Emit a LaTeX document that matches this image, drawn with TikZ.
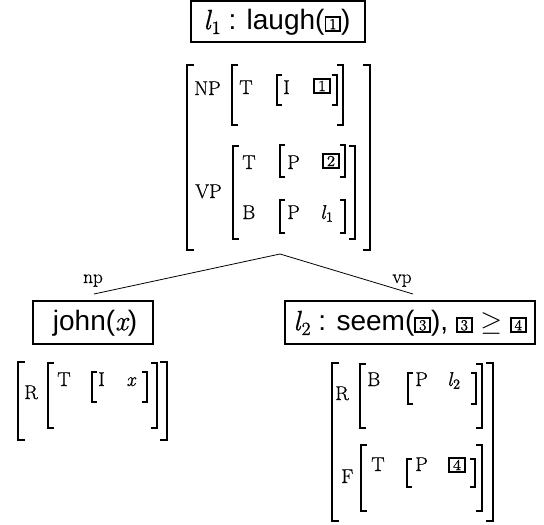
\documentclass[tikz,border=0pt]{standalone}
\usepackage{fix-cm}
\usepackage{fontspec}
\setmainfont{Latin Modern Roman}[FakeBold=0.6]
\newfontfamily\boxfont{Liberation Sans}
\newfontfamily\mathl{Latin Modern Roman}[FakeBold=0.8]
\newcommand\tg[1]{{\setlength\fboxrule{1.4pt}\setlength\fboxsep{0.6pt}\fbox{\makebox[8.5pt]{\fontsize{11.5}{11.5}\selectfont\rmfamily #1}}}}
\newcommand\li[3]{{\mathl\itshape #1}\kern0.04em\raisebox{-0.32ex}{\mathl\fontsize{#3}{#3}\selectfont #2}}
\newcommand\sqL[5]{\draw[#1] ({#2+#5},#3) -- (#2,#3) -- (#2,#4) -- ({#2+#5},#4);}
\newcommand\sqR[5]{\draw[#1] ({#2-#5},#3) -- (#2,#3) -- (#2,#4) -- ({#2-#5},#4);}
\newcommand\avmbr[6]{\sqL{#1}{#2}{#4}{#5}{#6}\sqR{#1}{#3}{#4}{#5}{#6}}
\begin{document}
\begin{tikzpicture}[x=0.75pt,y=-0.75pt,
  frame/.style={draw, line width=1.5pt, inner sep=0pt},
  btxt/.style={inner sep=0pt, font=\boxfont\fontsize{21}{23}\selectfont},
  lab/.style={inner sep=0pt, font=\fontsize{15}{17}\selectfont},
  elab/.style={inner sep=0pt, font=\fontsize{14.5}{17}\selectfont},
  tagn/.style={inner sep=0pt, xscale=1.1, transform shape},
  obr/.style={line width=1.5pt},
  mbr/.style={line width=1.3pt},
  ibr/.style={line width=0.9pt},
  edge/.style={line width=0.6pt}]
\useasboundingbox (0,0) rectangle (544,525);

% ---------- top box
\node[frame, minimum width=130.5pt, minimum height=30.8pt] (top) at (278,21.5) {};
\node[btxt] (toptxt) at (277,22) {\li{l}{1}{14} : laugh(\tg{1})};

% ---------- top AVM
\avmbr{obr}{187}{370}{65}{250}{7}
\avmbr{mbr}{232}{343}{65}{125}{6}
\avmbr{ibr}{277}{337}{75}{105}{5}
\avmbr{mbr}{233}{355}{146}{239}{6}
\avmbr{ibr}{280}{345}{145}{177}{5}
\avmbr{ibr}{280}{345}{200}{233}{5}
\node[lab, anchor=base west] (tNP) at (194,95) {NP};
\node[lab, anchor=base west] (tNPT) at (239,94) {T};
\node[lab, anchor=base west] (tNPI) at (283,94) {I};
\node[tagn] (tNPv) at (322,86) {\tg{1}};
\node[lab, anchor=base west] (tVP) at (195,198) {VP};
\node[lab, anchor=base west] (tVPT) at (242,169) {T};
\node[lab, anchor=base west] (tVPTP) at (287,169) {P};
\node[tagn] (tVPTv) at (331,161) {\tg{2}};
\node[lab, anchor=base west] (tVPB) at (242,219) {B};
\node[lab, anchor=base west] (tVPBP) at (287,219) {P};
\node[lab, anchor=base west] (tVPBv) at (320,219) {\li{l}{1}{10.5}};

% ---------- tree edges
\coordinate (root) at (280,254);
\coordinate (lend) at (94,294);
\coordinate (rend) at (413,294);
\draw[edge] (root) -- (lend);
\draw[edge] (root) -- (rend);
\node[elab, anchor=base] (enp) at (93,283) {np};
\node[elab, anchor=base] (evp) at (402,283) {vp};

% ---------- left child
\node[frame, minimum width=90pt, minimum height=32.6pt] (lbox) at (93,322.5) {};
\node[btxt] (lboxtxt) at (95,323) {john({\mathl\itshape x})};
\avmbr{obr}{18}{167}{362}{440}{7}
\avmbr{mbr}{48}{157}{363}{428}{6}
\avmbr{ibr}{92}{147}{372}{402}{5}
\node[lab, anchor=base west] (lR) at (24,399) {R};
\node[lab, anchor=base west] (lT) at (57,386) {T};
\node[lab, anchor=base west] (lI) at (98,386) {I};
\node[lab, anchor=base west] (lx) at (126,386) {{\mathl\itshape x}};

% ---------- right child
\node[frame, minimum width=187.5pt, minimum height=32.6pt] (rbox) at (410,322.5) {};
\node[btxt] (rboxtxt) at (410,323) {\li{l}{2}{14} : seem(\tg{3}), \tg{3} $\geq$ \tg{4}};
\avmbr{obr}{332}{493}{363}{521}{7}
\avmbr{mbr}{360}{482}{364}{428}{6}
\avmbr{ibr}{408}{476}{373}{404}{5}
\avmbr{mbr}{361}{482}{445}{511}{6}
\avmbr{ibr}{407}{475}{459}{487}{5}
\node[lab, anchor=base west] (rR) at (335,400) {R};
\node[lab, anchor=base west] (rB) at (367,386) {B};
\node[lab, anchor=base west] (rBP) at (415,386) {P};
\node[lab, anchor=base west] (rBv) at (447,386) {\li{l}{2}{10.5}};
\node[lab, anchor=base west] (rF) at (341,483) {F};
\node[lab, anchor=base west] (rT) at (371,471) {T};
\node[lab, anchor=base west] (rTP) at (415,471) {P};
\node[tagn] (rTv) at (457,465) {\tg{4}};
\end{tikzpicture}
\end{document}
